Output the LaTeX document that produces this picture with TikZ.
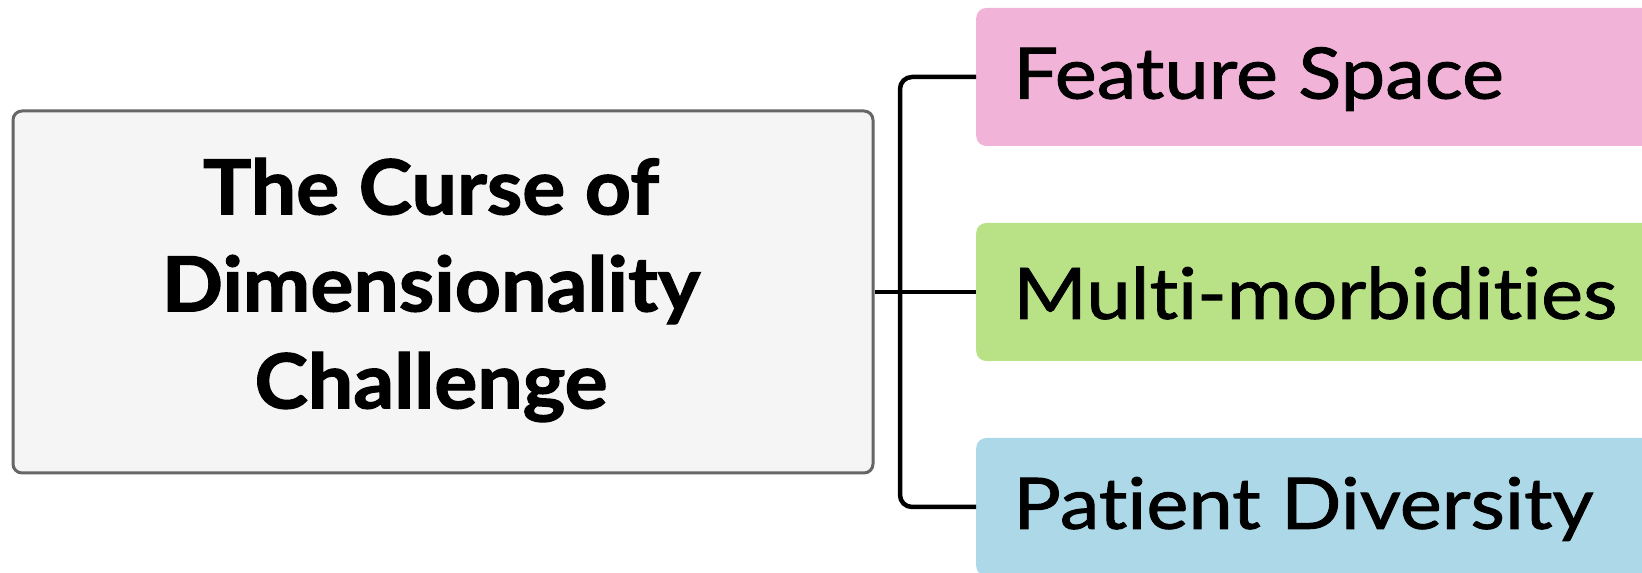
\documentclass[tikz,border=0pt]{standalone}
\usepackage{fontspec}
\setmainfont{Lato}[Ligatures=NoCommon]
\newfontfamily\leaffont{Lato}[Ligatures=NoCommon, FakeStretch=1.12, FakeBold=1.3]
\newfontfamily\rootfont{Lato}[Ligatures=NoCommon, FakeStretch=1.06, BoldFeatures={FakeBold=1.6}]
\begin{document}
\begin{tikzpicture}[x=1pt,y=1pt,
  rootbox/.style={draw=black!60, line width=3pt, fill=black!4, rounded corners=9pt,
    minimum width=860pt, minimum height=362pt, inner sep=0pt},
  leafbox/.style={rounded corners=10pt, minimum width=690pt, minimum height=138pt,
    inner sep=0pt, draw=none},
  leaftext/.style={anchor=west, font=\leaffont\fontsize{71}{80}\selectfont, inner sep=0pt},
  link/.style={draw=black, line width=4.5pt, rounded corners=12pt}]
\useasboundingbox (0,0) rectangle (1642,573);
\clip (0,0) rectangle (1642,573);
\definecolor{pinkfill}{HTML}{F1B4D8}
\definecolor{greenfill}{HTML}{B9E286}
\definecolor{bluefill}{HTML}{ADD8E7}

% central topic
\node[rootbox] (root) at (443,281) {};
\node[align=center, font=\rootfont\bfseries\fontsize{76}{97}\selectfont] (roottext) at (431,283)
  {The Curse of\\Dimensionality\\Challenge};

% branch boxes
\node[leafbox, fill=pinkfill, anchor=west] (fs) at (976,496) {};
\node[leafbox, fill=greenfill, anchor=west] (mm) at (976,281) {};
\node[leafbox, fill=bluefill, anchor=west] (pd) at (976,66) {};
\node[leaftext] (fst) at (1013,494) {Feature Space};
\node[leaftext] (mmt) at (1013,280) {Multi-morbidities};
\node[leaftext] (pdt) at (1013,64) {Patient Diversity};

% connectors
\coordinate (bus) at (900,281);
\draw[link] (root.east) -- (mm.west);
\draw[link] (fs.west) -| (bus) |- (pd.west);
\end{tikzpicture}
\end{document}
